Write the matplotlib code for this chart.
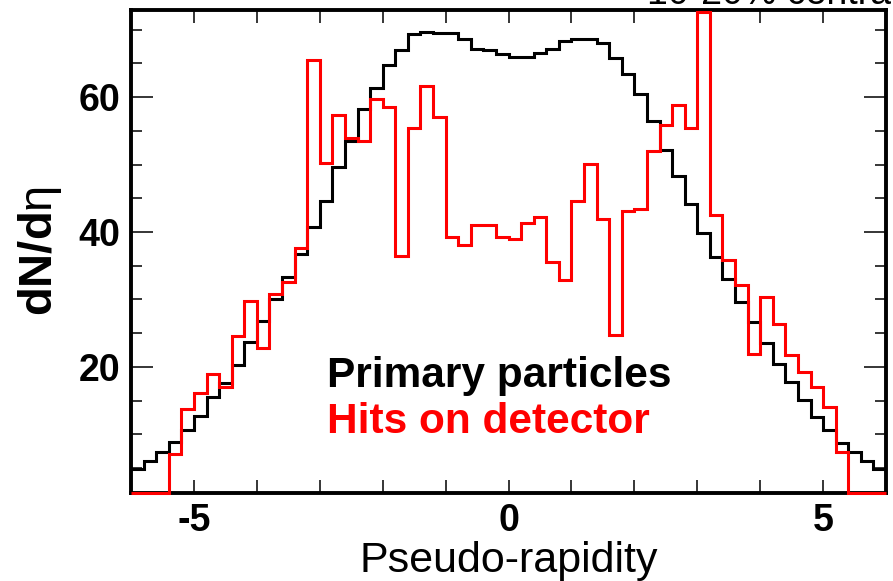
import numpy as np
import matplotlib
matplotlib.use("Agg")
import matplotlib.pyplot as plt
from matplotlib.ticker import MultipleLocator

plt.rcParams['font.family'] = ['Liberation Sans', 'DejaVu Sans']
plt.rcParams['axes.unicode_minus'] = False
plt.rcParams['mathtext.fontset'] = 'custom'
plt.rcParams['mathtext.rm'] = 'Liberation Sans'
plt.rcParams['mathtext.bf'] = 'Liberation Sans:bold'

# bin edges in pseudo-rapidity, 0.2 wide
edges = np.round(np.arange(-6.0, 6.0001, 0.2), 2)

# primary particles dN/deta
primary = [4.8, 6.1, 7.4, 8.9, 10.6, 12.7, 15.5, 17.6, 20.3, 23.7,
           26.8, 30.0, 33.3, 36.7, 40.8, 44.6, 49.7, 53.5, 58.2, 61.4,
           64.7, 67.0, 69.3, 69.7, 69.5, 69.5, 68.7, 67.2, 67.0, 66.4,
           66.0, 66.0, 66.6, 67.2, 68.4, 68.6, 68.7, 68.0, 65.8, 63.4,
           60.4, 56.5, 52.2, 48.3, 44.2, 39.8, 36.3, 33.0, 29.6, 26.7,
           23.5, 20.4, 17.8, 15.1, 12.6, 10.6, 8.7, 7.4, 6.1, 4.8]

# hits on detector
hits = [0, 0, 0, 7.1, 13.7, 16.2, 19.0, 17.0, 24.6, 29.8,
        22.8, 30.8, 32.6, 37.6, 65.5, 50.3, 57.4, 53.9, 53.5, 59.8,
        58.6, 36.4, 55.5, 61.6, 57.0, 39.3, 38.1, 41.1, 41.1, 39.3,
        38.9, 41.3, 42.2, 35.6, 32.9, 44.6, 50.1, 41.9, 24.7, 43.1,
        43.4, 52.0, 55.9, 58.8, 55.4, 72.7, 42.5, 35.9, 32.1, 21.9,
        30.4, 26.4, 21.7, 19.2, 17.0, 14.0, 7.4, 0, 0, 0]

ymin, ymax = 1.3, 73.0

fig = plt.figure(figsize=(8.93, 5.81), dpi=100)
ax = fig.add_axes([0.1467, 0.1515, 0.9922 - 0.1467, 0.9836 - 0.1515])

ax.stairs(primary, edges, baseline=None, color='black', lw=2.2, zorder=3)
# empty bins sit on the frame, as in the original
ax.stairs(np.clip(hits, ymin, None), edges, baseline=None, color='#ff0000',
          lw=2.2, zorder=4, clip_on=False)

ax.set_xlim(-6, 6)
ax.set_ylim(ymin, ymax)

ax.xaxis.set_major_locator(MultipleLocator(5))
ax.xaxis.set_minor_locator(MultipleLocator(1))
ax.yaxis.set_major_locator(MultipleLocator(20))
ax.yaxis.set_minor_locator(MultipleLocator(5))

ax.tick_params(axis='both', which='both', direction='in', top=True, right=True,
               width=1.1, labelsize=27)
ax.tick_params(axis='x', which='both', length=9.5, pad=7)
ax.tick_params(axis='y', which='major', length=16, pad=8)
ax.tick_params(axis='y', which='minor', length=8)
for lab in ax.get_xticklabels() + ax.get_yticklabels():
    lab.set_fontweight('bold')

for sp in ax.spines.values():
    sp.set_linewidth(2.8)

ax.set_xlabel('Pseudo-rapidity', fontsize=31, labelpad=2)
ax.set_ylabel(r'$\mathbf{dN/d}\mathrm{\eta}$', fontsize=34, labelpad=10)

ax.text(0.260, 0.219, 'Primary particles', transform=ax.transAxes,
        fontsize=30.5, fontweight='bold', color='black')
ax.text(0.260, 0.124, 'Hits on detector', transform=ax.transAxes,
        fontsize=30.5, fontweight='bold', color='#ff0000')

# title mostly cut off by the top of the image
fig.text(0.724, 0.993, '10-20% central', fontsize=27, va='baseline')

fig.savefig('out.png', dpi=100)
